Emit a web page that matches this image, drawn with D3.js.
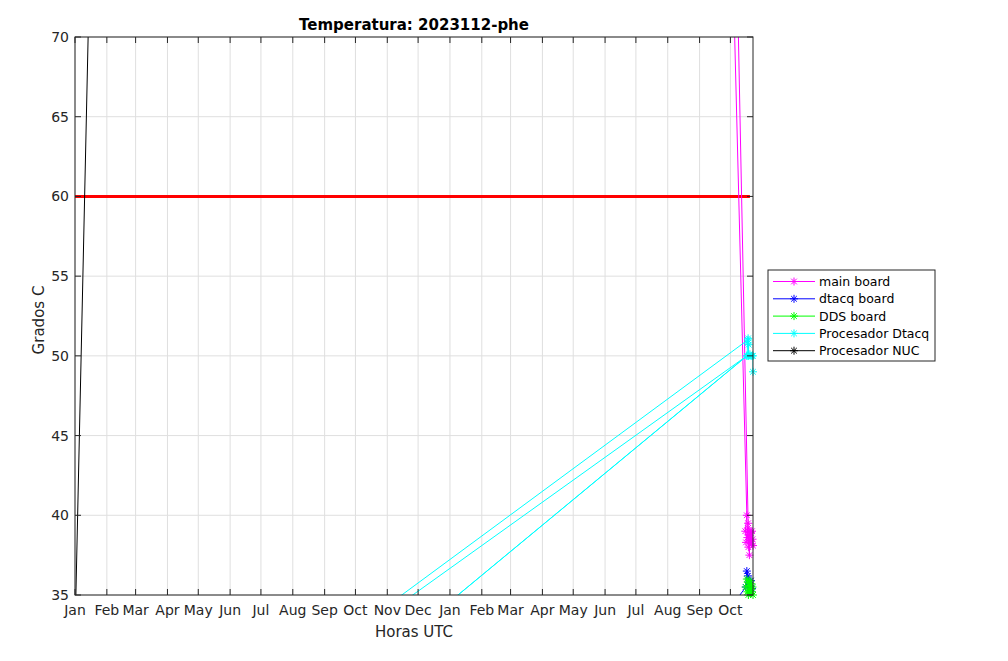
<!DOCTYPE html>
<html>
<head>
<meta charset="utf-8">
<script src="https://cdn.jsdelivr.net/npm/d3@7"></script>
<style>
  body { margin: 0; background: #fff; }
  text { font-family: "DejaVu Sans", sans-serif; }
</style>
</head>
<body>
<div id="chart"></div>
<script>
// data: [time, grados C]
var xLimits = ["2022-01-01 00:00", "2023-10-23 00:00"];
var yTicks = [35, 40, 45, 50, 55, 60, 65, 70];
var umbral = 60;
var umbralTimes = ["2022-01-01 00:00", "2023-10-20 00:00"];

var mainBoard = [
    ["2023-09-26 12:00", 92], ["2023-10-17 00:00", 40.0], ["2023-10-15 12:00", 39.0],
    ["2023-10-17 12:00", 38.6], ["2023-10-18 00:00", 39.2], ["2023-10-18 12:00", 38.0],
    ["2023-10-19 00:00", 38.8], ["2023-10-19 12:00", 37.5], ["2023-10-20 00:00", 39.0],
    ["2023-10-20 12:00", 38.4], ["2023-10-21 00:00", 38.9], ["2023-10-21 12:00", 38.2],
    ["2023-10-22 00:00", 39.0], ["2023-10-22 12:00", 38.5], ["2023-10-23 00:00", 38.1],
    ["2023-10-16 06:00", 38.3], ["2023-10-18 06:00", 39.5], ["2023-10-02 00:00", 92]
];
var dtacqBoard = [
    ["2023-10-08 00:00", 34.8], ["2023-10-16 00:00", 35.5], ["2023-10-17 00:00", 36.5],
    ["2023-10-18 00:00", 36.2], ["2023-10-19 00:00", 35.8], ["2023-10-20 00:00", 35.6],
    ["2023-10-21 00:00", 35.9], ["2023-10-22 00:00", 35.4]
];
var ddsBoard = [
    ["2023-10-16 00:00", 35.5], ["2023-10-17 00:00", 36.0], ["2023-10-17 12:00", 35.2],
    ["2023-10-18 00:00", 35.8], ["2023-10-18 12:00", 35.0], ["2023-10-19 00:00", 35.6],
    ["2023-10-19 12:00", 35.3], ["2023-10-20 00:00", 35.9], ["2023-10-20 12:00", 35.1],
    ["2023-10-21 00:00", 35.4], ["2023-10-21 12:00", 35.7], ["2023-10-22 00:00", 35.2],
    ["2023-10-22 12:00", 35.5], ["2023-10-23 00:00", 35.0]
];
var procDtacq = [
    ["2023-10-18 00:00", 51.0], ["2021-11-20 00:00", 17.9], ["2023-10-17 00:00", 50.0],
    ["2022-02-24 00:00", 18.0], ["2023-10-17 06:00", 50.0], ["2023-10-17 18:00", 50.8],
    ["2023-10-18 06:00", 51.1], ["2023-10-18 18:00", 50.7], ["2023-10-18 12:00", 50.0],
    ["2023-10-19 00:00", 50.0], ["2023-10-20 00:00", 50.1], ["2023-10-21 00:00", 50.0],
    ["2023-10-22 00:00", 50.0], ["2023-10-23 00:00", 50.0], ["2023-10-23 00:00", 49.0]
];
var procNUC = [
    ["2021-12-31 12:00", 31.0], ["2022-01-16 00:00", 76.5]
];

var seriesNames = ["main board", "dtacq board", "DDS board", "Procesador Dtacq", "Procesador NUC"];
var seriesData = [mainBoard, dtacqBoard, ddsBoard, procDtacq, procNUC];
var seriesColors = ["#ff00ff", "#0000ff", "#00ff00", "#00ffff", "#000000"];

var width = 1008, height = 661;
var margin = {left: 75, right: 255, top: 37, bottom: 66};
var parse = d3.timeParse("%Y-%m-%d %H:%M");
var axisColor = "#262626";

var svg = d3.select("#chart").append("svg")
    .attr("width", width)
    .attr("height", height);

var x = d3.scaleTime()
    .domain(xLimits.map(parse))
    .range([margin.left, width - margin.right]);
var y = d3.scaleLinear()
    .domain([35, 70])
    .range([height - margin.bottom, margin.top]);

var x0 = x.range()[0], x1 = x.range()[1], y0 = y.range()[0], y1 = y.range()[1];
var monthTicks = x.ticks(d3.timeMonth.every(1));

svg.append("defs").append("clipPath").attr("id", "clip")
    .append("rect")
    .attr("x", x0).attr("y", y1)
    .attr("width", x1 - x0).attr("height", y0 - y1);

// grid
var grid = svg.append("g");
grid.selectAll(".gx").data(monthTicks).enter().append("line")
    .attr("x1", function (d) { return x(d); }).attr("x2", function (d) { return x(d); })
    .attr("y1", y0).attr("y2", y1)
    .attr("stroke", "#dfdfdf").attr("stroke-width", 1);
grid.selectAll(".gy").data(yTicks).enter().append("line")
    .attr("x1", x0).attr("x2", x1)
    .attr("y1", function (d) { return y(d); }).attr("y2", function (d) { return y(d); })
    .attr("stroke", "#dfdfdf").attr("stroke-width", 1);

// threshold line
var plot = svg.append("g").attr("clip-path", "url(#clip)");
plot.append("line")
    .attr("x1", x(parse(umbralTimes[0]))).attr("x2", x(parse(umbralTimes[1])))
    .attr("y1", y(umbral)).attr("y2", y(umbral))
    .attr("stroke", "#ff0000").attr("stroke-width", 3);

// star marker (MATLAB '*')
function starPath(r) {
    var a = r * 0.7071;
    return "M" + (-r) + ",0L" + r + ",0M0," + (-r) + "L0," + r +
        "M" + (-a) + "," + (-a) + "L" + a + "," + a +
        "M" + (-a) + "," + a + "L" + a + "," + (-a);
}

var line = d3.line()
    .x(function (d) { return x(parse(d[0])); })
    .y(function (d) { return y(d[1]); });

var t0 = x.domain()[0], t1 = x.domain()[1];
seriesData.forEach(function (data, i) {
    plot.append("path")
        .attr("d", line(data))
        .attr("fill", "none")
        .attr("stroke", seriesColors[i])
        .attr("stroke-width", 1);
    // markers only where the point is inside the limits
    var inside = data.filter(function (d) {
        var t = parse(d[0]);
        return t >= t0 && t <= t1 && d[1] >= 35 && d[1] <= 70;
    });
    svg.append("g").selectAll("path").data(inside).enter().append("path")
        .attr("transform", function (d) { return "translate(" + x(parse(d[0])) + "," + y(d[1]) + ")"; })
        .attr("d", starPath(4))
        .attr("stroke", seriesColors[i])
        .attr("stroke-width", 1)
        .attr("fill", "none");
});

// box + ticks on all sides
var axes = svg.append("g");
axes.append("rect")
    .attr("x", x0).attr("y", y1)
    .attr("width", x1 - x0).attr("height", y0 - y1)
    .attr("fill", "none").attr("stroke", axisColor).attr("stroke-width", 1);
var tk = 6;
axes.selectAll(".tb").data(monthTicks).enter().append("path")
    .attr("d", function (d) {
        var px = x(d);
        return "M" + px + "," + y0 + "V" + (y0 - tk) + "M" + px + "," + y1 + "V" + (y1 + tk);
    })
    .attr("stroke", axisColor);
axes.selectAll(".tl").data(yTicks).enter().append("path")
    .attr("d", function (d) {
        var py = y(d);
        return "M" + x0 + "," + py + "H" + (x0 + tk) + "M" + x1 + "," + py + "H" + (x1 - tk);
    })
    .attr("stroke", axisColor);

// tick labels
var fmt = d3.timeFormat("%b");
axes.selectAll(".lx").data(monthTicks).enter().append("text")
    .attr("x", function (d) { return x(d); })
    .attr("y", y0 + 20)
    .attr("text-anchor", "middle")
    .attr("font-size", 14)
    .attr("fill", axisColor)
    .text(function (d) { return fmt(d); });
axes.selectAll(".ly").data(yTicks).enter().append("text")
    .attr("x", x0 - 6)
    .attr("y", function (d) { return y(d) + 5; })
    .attr("text-anchor", "end")
    .attr("font-size", 14)
    .attr("fill", axisColor)
    .text(function (d) { return d; });

// titles
svg.append("text")
    .attr("x", (x0 + x1) / 2).attr("y", 30)
    .attr("text-anchor", "middle")
    .attr("font-size", 15).attr("font-weight", "bold")
    .attr("fill", "#000")
    .text("Temperatura: 2023112-phe");
svg.append("text")
    .attr("x", (x0 + x1) / 2).attr("y", 637)
    .attr("text-anchor", "middle")
    .attr("font-size", 15)
    .attr("fill", axisColor)
    .text("Horas UTC");
svg.append("text")
    .attr("transform", "translate(44," + ((y0 + y1) / 2 + 4) + ") rotate(-90)")
    .attr("text-anchor", "middle")
    .attr("font-size", 15)
    .attr("fill", axisColor)
    .text("Grados C");

// legend
var lg = svg.append("g").attr("transform", "translate(768,270)");
lg.append("rect")
    .attr("width", 167).attr("height", 91)
    .attr("fill", "#fff").attr("stroke", axisColor).attr("stroke-width", 1);
seriesNames.forEach(function (name, i) {
    var ry = 11.5 + i * 17.3;
    lg.append("line")
        .attr("x1", 5).attr("x2", 47)
        .attr("y1", ry).attr("y2", ry)
        .attr("stroke", seriesColors[i]).attr("stroke-width", 1);
    lg.append("path")
        .attr("transform", "translate(26," + ry + ")")
        .attr("d", starPath(4))
        .attr("stroke", seriesColors[i]).attr("fill", "none");
    lg.append("text")
        .attr("x", 51).attr("y", ry + 4.5)
        .attr("font-size", 12.5)
        .attr("fill", "#000")
        .text(name);
});
</script>
</body>
</html>
